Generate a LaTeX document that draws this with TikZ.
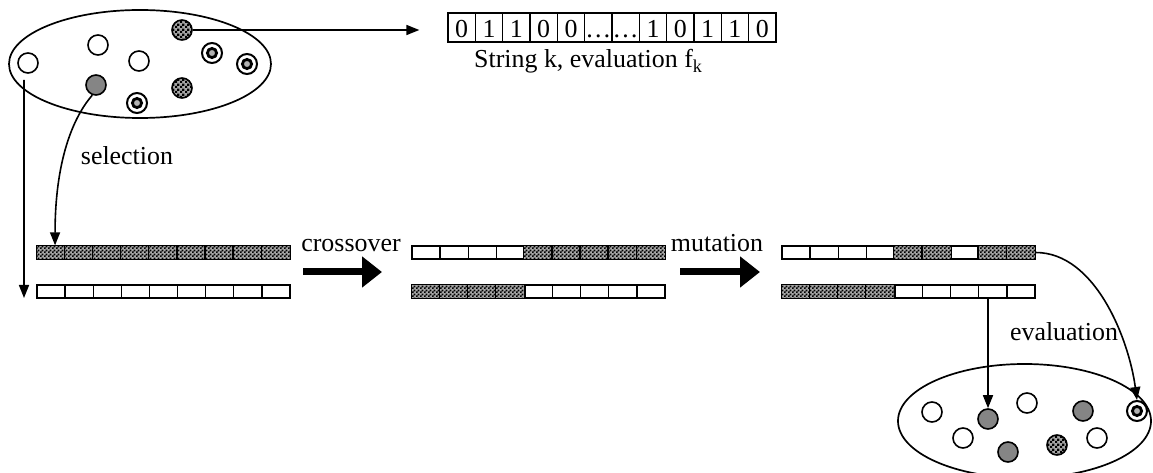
\documentclass[tikz,border=0pt]{standalone}
\usepackage{fontspec}
\setmainfont{Liberation Serif}
\usetikzlibrary{arrows.meta,shapes.geometric,patterns}
\pgfdeclarepatternformonly{finecheck}{\pgfpointorigin}{\pgfqpoint{4bp}{4bp}}{\pgfqpoint{4bp}{4bp}}{%
  \pgfpathrectangle{\pgfpointorigin}{\pgfqpoint{2bp}{2bp}}%
  \pgfpathrectangle{\pgfqpoint{2bp}{2bp}}{\pgfqpoint{2bp}{2bp}}%
  \pgfusepath{fill}}
\pgfdeclarepatternformonly{coarsecheck}{\pgfpointorigin}{\pgfqpoint{5bp}{5bp}}{\pgfqpoint{5bp}{5bp}}{%
  \pgfpathrectangle{\pgfpointorigin}{\pgfqpoint{2.5bp}{2.5bp}}%
  \pgfpathrectangle{\pgfqpoint{2.5bp}{2.5bp}}{\pgfqpoint{2.5bp}{2.5bp}}%
  \pgfusepath{fill}}
\tikzset{
  txt/.style={font=\fontsize{26}{30}\selectfont, inner sep=0},
  ind/.style={circle, draw, line width=1.6bp, minimum size=20bp, inner sep=0},
  indw/.style={ind, fill=white},
  indg/.style={ind, fill=black!48},
  indc/.style={ind, fill=black!35, postaction={pattern=coarsecheck}},
  indd/.style={ind, line width=2bp, fill=white, path picture={\draw[line width=2.8bp, fill=black!30] (path picture bounding box.center) circle (4.6bp);}},
  pop/.style={ellipse, draw, line width=1.7bp, inner sep=0},
  arr/.style={line width=1.6bp, -{Triangle[length=13bp,width=10bp]}},
  bigarr/.style={line width=7bp, -{Triangle[length=20bp,width=30bp]}},
  gcell/.style={draw, line width=1.3bp, minimum width=28.11bp, minimum height=13bp, inner sep=0, fill=white},
  scell/.style={draw, line width=1.3bp, minimum width=27.33bp, minimum height=29bp, inner sep=0, text height=20bp, text depth=0bp, font=\fontsize{26}{30}\selectfont},
}
\newcommand{\chromrow}[3]{%
  \foreach \i in {1,...,9} \node[gcell] (#1-\i) at ({#2+(\i-0.5)*28.11},{-(#3+6.5)}) {};}
\newcommand{\hatchcells}[2]{%
  \foreach \i in {#2} {\fill[black!35] (#1-\i.south west) rectangle (#1-\i.north east);
   \fill[pattern=finecheck] (#1-\i.south west) rectangle (#1-\i.north east);
   \draw[line width=1.3bp] (#1-\i.south west) rectangle (#1-\i.north east);}}
\begin{document}
\begin{tikzpicture}[x=1bp,y=1bp]
\useasboundingbox (0,0) rectangle (1153,-473);
% populations
\node[pop, minimum width=262bp, minimum height=108bp] (popA) at (140,-64) {};
\node[pop, minimum width=253bp, minimum height=114bp] (popB) at (1024.5,-421) {};
% top individuals
\node[indw] (a1) at (28,-63) {};
\node[indw] (a2) at (98,-45) {};
\node[indw] (a3) at (139,-61) {};
\node[indc] (a4) at (182,-30) {};
\node[indd] (a5) at (212,-53) {};
\node[indd] (a6) at (247,-64) {};
\node[indg] (a7) at (96,-85) {};
\node[indc] (a8) at (182,-88) {};
\node[indd] (a9) at (137,-103) {};
% bottom individuals
\node[indw] (b1) at (932,-412) {};
\node[indg] (b2) at (988,-419) {};
\node[indw] (b3) at (1027,-403) {};
\node[indg] (b4) at (1083,-411) {};
\node[indd] (b5) at (1137,-411) {};
\node[indw] (b6) at (963,-438) {};
\node[indg] (b7) at (1008,-452) {};
\node[indc] (b8) at (1057,-445) {};
\node[indw] (b9) at (1097,-438) {};
% string
\foreach \t [count=\i] in {0,1,1,0,0,{\ldots},{\ldots},1,0,1,1,0}
  \node[scell] (s-\i) at ({448+(\i-0.5)*27.33},-27.5) {\t};
\node[txt, anchor=base west] (strlab) at (474,-68) {String k, evaluation f\textsubscript{k}};
% chromosomes
\chromrow{A}{37}{246}
\chromrow{B}{37}{285}
\chromrow{C}{412}{246}
\chromrow{D}{412}{285}
\chromrow{E}{782}{246}
\chromrow{F}{782}{285}
\hatchcells{A}{1,...,9}
\hatchcells{C}{5,...,9}
\hatchcells{D}{1,...,4}
\hatchcells{E}{5,6,8,9}
\hatchcells{F}{1,...,4}
% connectors
\draw[arr, shorten >=28bp] (a4.east) -- (a4.east -| s-1.west);
\draw[arr] (a7.250) .. controls +(-20,-23) and +(0,83) .. ([xshift=4bp]A-1.north);
\node[txt, anchor=base] (sel) at (127,-165) {selection};
\coordinate (lend) at (24,-298);
\draw[arr] ([xshift=-4bp,yshift=-6bp]a1.south) -- (lend);
\coordinate (cx1) at (303,-272);
\coordinate (cx2) at (382,-272);
\draw[bigarr] (cx1) -- (cx2);
\node[txt, anchor=base] (cxl) at (351,-252) {crossover};
\coordinate (mu1) at (680,-272);
\coordinate (mu2) at (760,-272);
\draw[bigarr] (mu1) -- (mu2);
\node[txt, anchor=base] (mul) at (717,-252) {mutation};
\draw[arr] (E-9.east) .. controls +(60,0) and +(-8,60) .. (b5.north);
\draw[arr] (b2.north |- F-8.south) -- (b2.north);
\node[txt, anchor=base] (evl) at (1064,-341) {evaluation};
\end{tikzpicture}
\end{document}
